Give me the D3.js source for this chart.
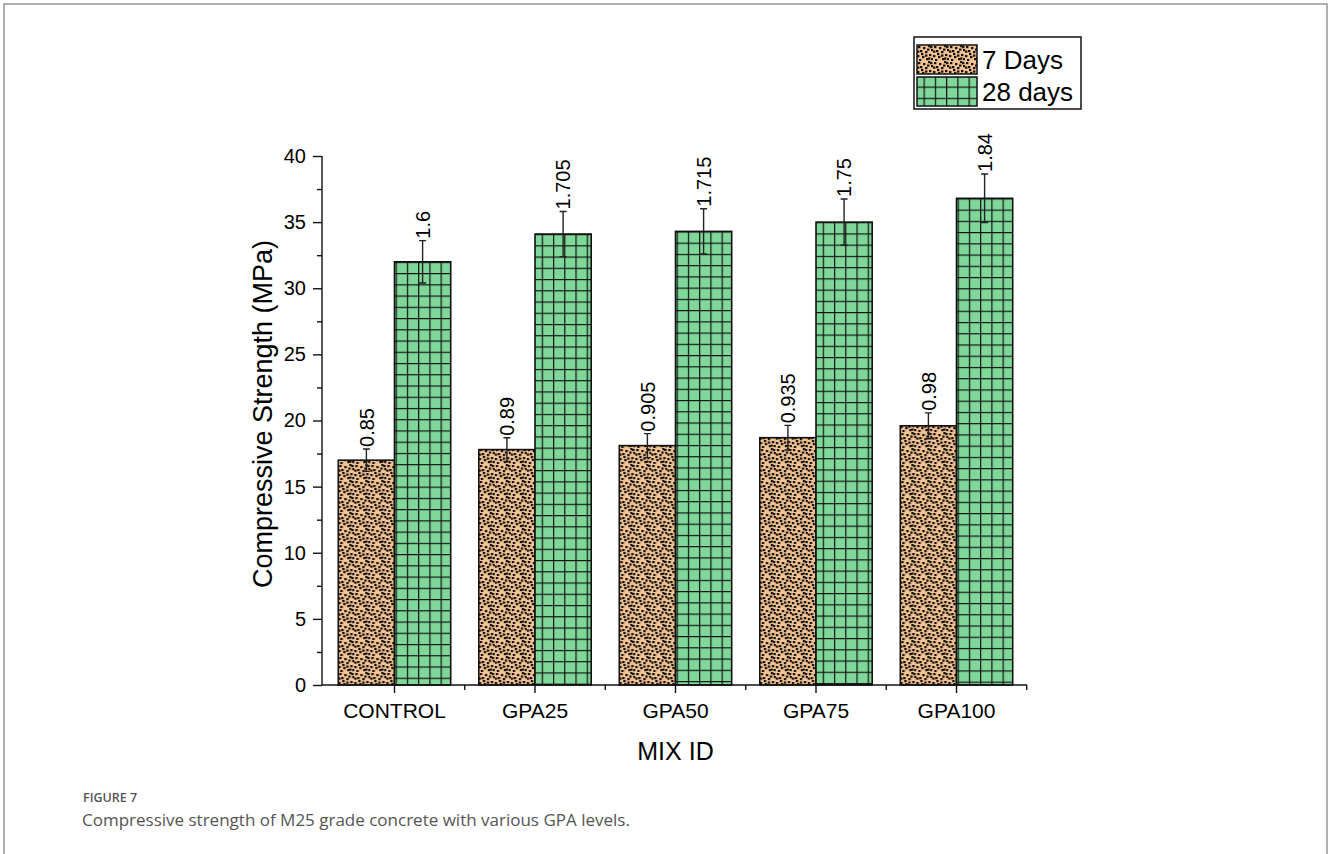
<!DOCTYPE html>
<html>
<head>
<meta charset="utf-8">
<script src="https://cdn.jsdelivr.net/npm/d3@7"></script>
<style>
  html, body { margin: 0; padding: 0; background: #fff; }
  svg { display: block; }
  .axis text { font-family: "Liberation Sans", Arial, sans-serif; fill: #000; }
  .caption { font-family: "Open Sans", "Noto Sans", sans-serif; fill: #555; }
</style>
</head>
<body>
<svg id="chart" width="1328" height="854"></svg>
<script>
// Mix designations and compressive strengths (MPa)
const mixIds = ["CONTROL", "GPA25", "GPA50", "GPA75", "GPA100"];
const seriesNames = ["7 Days", "28 days"];
const strength7 = [17.0, 17.8, 18.1, 18.7, 19.6];
const strength28 = [32.0, 34.1, 34.3, 35.0, 36.8];
// Standard deviations, shown as error bars and printed above them
const sd7 = [0.85, 0.89, 0.905, 0.935, 0.98];
const sd28 = [1.6, 1.705, 1.715, 1.75, 1.84];
const yTicks = [0, 5, 10, 15, 20, 25, 30, 35, 40];
const yMinorTicks = [2.5, 7.5, 12.5, 17.5, 22.5, 27.5, 32.5, 37.5];

const svg = d3.select("#chart");
const defs = svg.append("defs");

// Page frame
svg.append("path")
  .attr("d", "M4,854 V4 H1327 V854")
  .attr("fill", "none").attr("stroke", "#b0b0b0").attr("stroke-width", 2);

// Plot scales
const x = d3.scaleBand().domain(mixIds).range([324.25, 1026.75])
  .paddingInner(0.2).paddingOuter(0.1);
const xSub = d3.scaleBand().domain(["d7", "d28"]).range([0, x.bandwidth()]);
const y = d3.scaleLinear().domain([0, 40]).range([685, 156]);

// Speckled fill for 7-day bars
const dotTile = 16;
const dots = [[1,1],[6,2],[11,0],[14,4],[3,5],[8,6],[12,9],[0,10],[5,11],[9,13],[14,13],[2,14],[8,9.5],[10,3.5],[4,8],[13,1],[0,5.5],[11,12.5]];
const speckle = defs.append("pattern").attr("id", "speckle")
  .attr("patternUnits", "userSpaceOnUse").attr("width", dotTile).attr("height", dotTile);
speckle.append("rect").attr("width", dotTile).attr("height", dotTile).attr("fill", "#f4c28f");
speckle.selectAll("rect.dot").data(dots).join("rect").attr("class", "dot")
  .attr("x", d => d[0]).attr("y", d => d[1]).attr("width", 2.4).attr("height", 2.2)
  .attr("fill", "#111");

// Grid fill for 28-day bars, anchored at a given origin
const cell = 11.24;
function gridPattern(id, ox, oy) {
  const p = defs.append("pattern").attr("id", id)
    .attr("patternUnits", "userSpaceOnUse").attr("x", ox).attr("y", oy)
    .attr("width", cell).attr("height", cell);
  p.append("rect").attr("width", cell).attr("height", cell).attr("fill", "#7fd89a");
  p.append("path").attr("d", `M0,0 H${cell} M0,0 V${cell}`)
    .attr("stroke", "#111").attr("stroke-width", 2.4).attr("fill", "none");
  return `url(#${id})`;
}

const rows = mixIds.map((m, i) => ({
  id: m, i,
  bars: [
    { key: "d7", v: strength7[i], e: sd7[i] },
    { key: "d28", v: strength28[i], e: sd28[i] }
  ]
}));

// Bars
const groups = svg.append("g").selectAll("g").data(rows).join("g")
  .attr("transform", d => `translate(${x(d.id)},0)`);

groups.selectAll("rect.bar").data(d => d.bars.map(b => ({ ...b, row: d }))).join("rect")
  .attr("class", "bar")
  .attr("x", b => xSub(b.key))
  .attr("y", b => y(b.v))
  .attr("width", xSub.bandwidth())
  .attr("height", b => y(0) - y(b.v))
  .attr("fill", b => b.key === "d7" ? "url(#speckle)"
    : gridPattern("grid" + b.row.i, x(b.row.id) + xSub(b.key), y(b.v)))
  .attr("stroke", "#111").attr("stroke-width", 1.6);

// Error bars
const errs = groups.selectAll("g.err").data(d => d.bars).join("g").attr("class", "err")
  .attr("transform", b => `translate(${xSub(b.key) + xSub.bandwidth() / 2},0)`);
errs.append("path")
  .attr("d", b => `M0,${y(b.v - b.e)} V${y(b.v + b.e)} M-3.5,${y(b.v - b.e)} H3.5 M-3.5,${y(b.v + b.e)} H3.5`)
  .attr("stroke", "#222").attr("stroke-width", 1.4).attr("fill", "none");
errs.append("text")
  .attr("transform", b => `translate(0,${y(b.v + b.e) - 2}) rotate(-90)`)
  .attr("dy", "0.36em")
  .attr("font-family", "Liberation Sans, Arial, sans-serif")
  .attr("font-size", 20)
  .attr("fill", "#000")
  .text(b => String(b.e));

// Y axis
const yAxis = svg.append("g").attr("class", "axis").attr("transform", "translate(322,0)")
  .call(d3.axisLeft(y).tickValues(yTicks).tickSize(9).tickPadding(7).tickFormat(d3.format("d")));
yAxis.select(".domain").attr("d", `M0,${y(40)} V${y(0)}`).attr("stroke", "#111").attr("stroke-width", 1.4);
yAxis.selectAll(".tick line").attr("stroke", "#111").attr("stroke-width", 1.4);
yAxis.selectAll("text").attr("font-size", 20);
svg.append("g").attr("transform", "translate(322,0)")
  .call(d3.axisLeft(y).tickValues(yMinorTicks).tickSize(5).tickFormat(""))
  .call(g => g.select(".domain").remove())
  .selectAll("line").attr("stroke", "#111").attr("stroke-width", 1.4);

// X axis
const xAxis = svg.append("g").attr("class", "axis").attr("transform", `translate(0,${y(0)})`)
  .call(d3.axisBottom(x).tickSize(8).tickPadding(10));
xAxis.select(".domain").attr("d", "M322,0 H1027").attr("stroke", "#111").attr("stroke-width", 1.4);
xAxis.selectAll(".tick line").attr("stroke", "#111").attr("stroke-width", 1.4);
xAxis.selectAll("text").attr("font-size", 21);
const bounds = d3.range(1, mixIds.length + 1).map(k => x.range()[0] + k * x.step());
svg.append("g").selectAll("line").data(bounds).join("line")
  .attr("x1", d => d).attr("x2", d => d)
  .attr("y1", y(0)).attr("y2", y(0) + 5)
  .attr("stroke", "#111").attr("stroke-width", 1.4);

// Axis titles
svg.append("text").attr("class", "axis")
  .attr("transform", `translate(272,414) rotate(-90)`)
  .attr("text-anchor", "middle")
  .attr("font-family", "Liberation Sans, Arial, sans-serif").attr("font-size", 27)
  .text("Compressive Strength (MPa)");
svg.append("text")
  .attr("x", (x.range()[0] + x.range()[1]) / 2).attr("y", 760)
  .attr("text-anchor", "middle")
  .attr("font-family", "Liberation Sans, Arial, sans-serif").attr("font-size", 25)
  .text("MIX ID");

// Legend
const legend = svg.append("g");
legend.append("rect").attr("x", 914).attr("y", 37).attr("width", 167).attr("height", 72)
  .attr("fill", "#fff").attr("stroke", "#111").attr("stroke-width", 1.5);
const legendFills = ["url(#speckle)", gridPattern("gridLegend", 917, 77)];
const legendRows = legend.selectAll("g").data(seriesNames).join("g")
  .attr("transform", (d, i) => `translate(917,${45 + i * 32})`);
legendRows.append("rect").attr("width", 60).attr("height", 29)
  .attr("fill", (d, i) => legendFills[i]).attr("stroke", "#111").attr("stroke-width", 1.5);
legendRows.append("text").attr("x", 65).attr("y", 24)
  .attr("font-family", "Liberation Sans, Arial, sans-serif").attr("font-size", 26)
  .text(d => d);

// Caption
svg.append("text").attr("class", "caption").attr("x", 83).attr("y", 802)
  .attr("font-size", 12.5).attr("font-weight", 600).text("FIGURE 7");
svg.append("text").attr("class", "caption").attr("x", 82).attr("y", 826)
  .attr("font-size", 17).text("Compressive strength of M25 grade concrete with various GPA levels.");
</script>
</body>
</html>
